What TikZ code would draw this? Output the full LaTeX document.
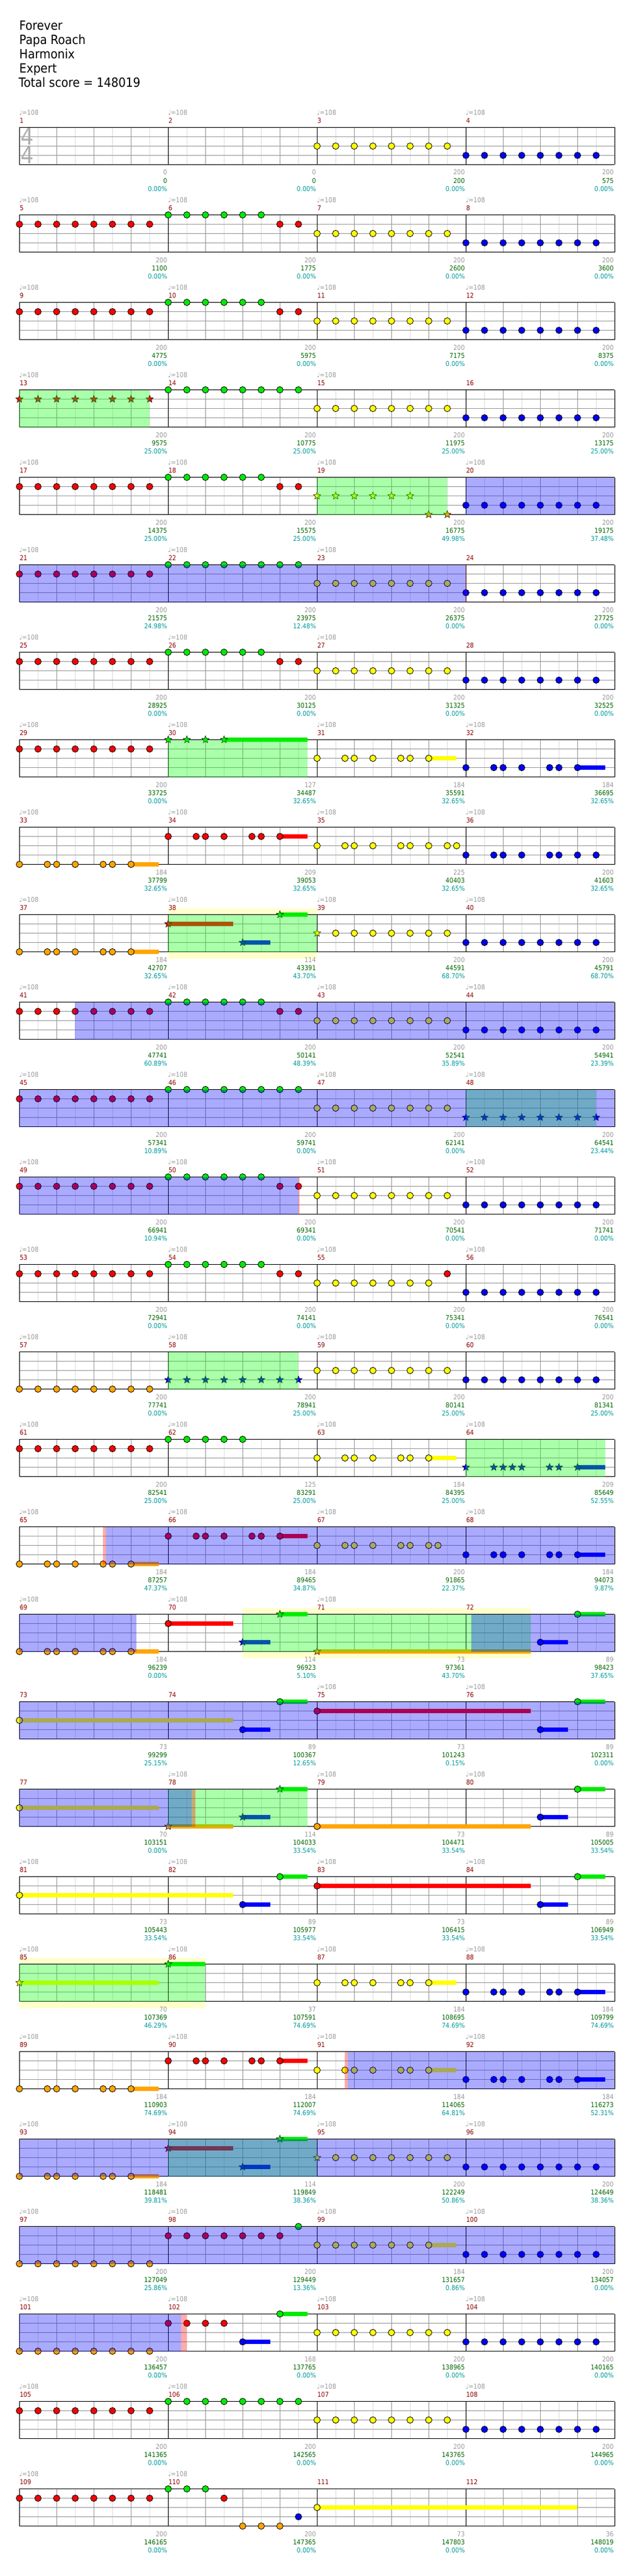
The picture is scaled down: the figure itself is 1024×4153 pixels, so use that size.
\documentclass[tikz,border=0pt]{standalone}
\usepackage{fontspec}
\setmainfont{DejaVu Sans}[FakeStretch=0.9]
\usetikzlibrary{shapes.geometric}
\definecolor{lc0}{RGB}{0,235,0}
\definecolor{lc1}{RGB}{255,0,0}
\definecolor{lc2}{RGB}{255,255,0}
\definecolor{lc3}{RGB}{0,0,255}
\definecolor{lc4}{RGB}{255,165,0}
\definecolor{mred}{RGB}{140,0,0}
\definecolor{tgrey}{RGB}{153,153,153}
\definecolor{sgreen}{RGB}{0,100,0}
\definecolor{pcyan}{RGB}{0,153,153}
\definecolor{gridm}{RGB}{153,153,153}
\definecolor{gridl}{RGB}{221,221,221}
\definecolor{paley}{RGB}{255,255,204}
\tikzset{
  notec/.style={draw=black,line width=0.8pt},
  starnote/.style={star,star points=5,star point ratio=2.3,minimum size=12.5pt,inner sep=0pt,draw=black,line width=0.5pt},
  gl/.style={gridl,line width=1pt},
  gm/.style={gridm,line width=1pt},
  gk/.style={black,line width=1pt},
  small/.style={inner sep=0pt,font=\fontsize{10.8}{12}\selectfont},
  tempo/.style={small,anchor=base west,text=tgrey},
  mnum/.style={small,anchor=base west,text=mred},
  gp/.style={small,anchor=base east,text=tgrey},
  tot/.style={small,anchor=base east,text=sgreen},
  pct/.style={small,anchor=base east,text=pcyan},
  hdline/.style={inner sep=0pt,anchor=base west,font=\fontsize{20.5}{23}\selectfont},
  tsig/.style={inner sep=0pt,text=gridm!80,font=\fontsize{37}{37}\selectfont}
}
\newcommand\mpos[1]{\pgfmathtruncatemacro\mrow{(#1-1)/4}\pgfmathtruncatemacro\mcol{#1-1-4*\mrow}\pgfmathsetmacro\mx{31.3+240*\mcol}\pgfmathsetmacro\my{205.5+141*\mrow}}
\newcommand\nts[3]{\mpos{#1}\foreach \p in {#3}{\filldraw[notec,fill=lc#2] (\mx+15*\p,\my+15*#2) circle (5.2pt);}}
\newcommand\sts[3]{\mpos{#1}\foreach \p in {#3}{\node[starnote,fill=lc#2] (s#1-#2-\p) at (\mx+15*\p,\my+15*#2) {};}}
\newcommand\sus[4]{\mpos{#1}\fill[lc#2] (\mx+15*#3,\my+15*#2-3.2) rectangle (\mx+15*#4,\my+15*#2+3.2);}
\newcommand\ovl[4]{\mpos{#1}\fill[#2,opacity=0.333] (\mx+15*#3,\my) rectangle (\mx+15*#4,\my+60);}
\newcommand\hlt[3]{\mpos{#1}\fill[paley] (\mx+15*#2,\my-10) rectangle (\mx+15*#3,\my) (\mx+15*#2,\my+60) rectangle (\mx+15*#3,\my+71);}
\begin{document}
\begin{tikzpicture}[x=1pt,y=-1pt]
\useasboundingbox (0,0) rectangle (1024,4153);

\node[hdline] (title) at (31,49) {Forever};
\node[hdline] (artist) at (31,72) {Papa Roach};
\node[hdline] (charter) at (31,95) {Harmonix};
\node[hdline] (level) at (31,118) {Expert};
\node[hdline] (score) at (30,141) {Total score = 148019};

\hlt{38}{0}{16}
\hlt{70}{8}{39}
\hlt{85}{0}{20}

\foreach \m in {1,...,112}{\mpos{\m}
  \foreach \i in {2,6,10,14} \draw[gl] (\mx+15*\i,\my) -- ++(0,60);
  \foreach \i in {4,8,12} \draw[gm] (\mx+15*\i,\my) -- ++(0,60);
  \foreach \j in {15,30,45} \draw[gm] (\mx,\my+\j) -- ++(240,0);
  \draw[gk] (\mx,\my) -- ++(240,0) (\mx,\my+60) -- ++(240,0) (\mx,\my) -- ++(0,60);
  \ifnum\mcol=3 \draw[gk] (\mx+240,\my) -- ++(0,60);\fi
}
\node[tsig] (ts1) at (44.5,220) {4};
\node[tsig] (ts2) at (44.5,250.5) {4};

\nts{3}{2}{0,2,...,14} \nts{4}{3}{0,2,...,14}
\nts{5}{1}{0,2,...,14} \nts{6}{0}{0,2,...,10} \nts{6}{1}{12,14} \nts{7}{2}{0,2,...,14} \nts{8}{3}{0,2,...,14}
\nts{9}{1}{0,2,...,14} \nts{10}{0}{0,2,...,10} \nts{10}{1}{12,14} \nts{11}{2}{0,2,...,14} \nts{12}{3}{0,2,...,14}
\sts{13}{1}{0,2,...,14} \nts{14}{0}{0,2,...,14} \nts{15}{2}{0,2,...,14} \nts{16}{3}{0,2,...,14}
\nts{17}{1}{0,2,...,14} \nts{18}{0}{0,2,...,10} \nts{18}{1}{12,14} \sts{19}{2}{0,2,...,10} \sts{19}{4}{12,14} \nts{20}{3}{0,2,...,14}
\nts{21}{1}{0,2,...,14} \nts{22}{0}{0,2,...,14} \nts{23}{2}{0,2,...,14} \nts{24}{3}{0,2,...,14}
\nts{25}{1}{0,2,...,14} \nts{26}{0}{0,2,...,10} \nts{26}{1}{12,14} \nts{27}{2}{0,2,...,14} \nts{28}{3}{0,2,...,14}
\nts{29}{1}{0,2,...,14}
\sus{30}{0}{6}{15} \sts{30}{0}{0,2,4,6}
\sus{31}{2}{12}{15} \nts{31}{2}{0,3,4,6,9,10,12}
\sus{32}{3}{12}{15} \nts{32}{3}{0,3,4,6,9,10,12}
\sus{33}{4}{12}{15} \nts{33}{4}{0,3,4,6,9,10,12}
\sus{34}{1}{12}{15} \nts{34}{1}{0,3,4,6,9,10,12}
\nts{35}{2}{0,3,4,6,9,10,12,14,15}
\nts{36}{3}{0,3,4,6,9,10,12,14}
\sus{37}{4}{12}{15} \nts{37}{4}{0,3,4,6,9,10,12}
\sus{38}{1}{0}{7} \sus{38}{3}{8}{11} \sus{38}{0}{12}{15} \sts{38}{1}{0} \sts{38}{3}{8} \sts{38}{0}{12}
\sts{39}{2}{0} \nts{39}{2}{2,4,...,14} \nts{40}{3}{0,2,...,14}
\nts{41}{1}{0,2,...,14} \nts{42}{0}{0,2,...,10} \nts{42}{1}{12,14} \nts{43}{2}{0,2,...,14} \nts{44}{3}{0,2,...,14}
\nts{45}{1}{0,2,...,14} \nts{46}{0}{0,2,...,14} \nts{47}{2}{0,2,...,14} \sts{48}{3}{0,2,...,14}
\nts{49}{1}{0,2,...,14} \nts{50}{0}{0,2,...,10} \nts{50}{1}{12,14} \nts{51}{2}{0,2,...,14} \nts{52}{3}{0,2,...,14}
\nts{53}{1}{0,2,...,14} \nts{54}{0}{0,2,...,10} \nts{54}{1}{12,14} \nts{55}{2}{0,2,...,12} \nts{55}{1}{14} \nts{56}{3}{0,2,...,14}
\nts{57}{4}{0,2,...,14} \sts{58}{3}{0,2,...,14} \nts{59}{2}{0,2,...,14} \nts{60}{3}{0,2,...,14}
\nts{61}{1}{0,2,...,14} \nts{62}{0}{0,2,...,8}
\sus{63}{2}{12}{15} \nts{63}{2}{0,3,4,6,9,10,12}
\sus{64}{3}{12}{15} \sts{64}{3}{0,3,4,5,6,9,10,12}
\sus{65}{4}{12}{15} \nts{65}{4}{0,3,4,6,9,10,12}
\sus{66}{1}{12}{15} \nts{66}{1}{0,3,4,6,9,10,12}
\nts{67}{2}{0,3,4,6,9,10,12,13}
\sus{68}{3}{12}{15} \nts{68}{3}{0,3,4,6,9,10,12}
\sus{69}{4}{12}{15} \nts{69}{4}{0,3,4,6,9,10,12}
\sus{70}{1}{0}{7} \nts{70}{1}{0} \sus{70}{3}{8}{11} \sts{70}{3}{8} \sus{70}{0}{12}{15} \sts{70}{0}{12}
\sus{71}{4}{0}{23} \sts{71}{4}{0}
\sus{72}{3}{8}{11} \nts{72}{3}{8} \sus{72}{0}{12}{15} \nts{72}{0}{12}
\sus{73}{2}{0}{23} \nts{73}{2}{0}
\sus{74}{3}{8}{11} \nts{74}{3}{8} \sus{74}{0}{12}{15} \nts{74}{0}{12}
\sus{75}{1}{0}{23} \nts{75}{1}{0}
\sus{76}{3}{8}{11} \nts{76}{3}{8} \sus{76}{0}{12}{15} \nts{76}{0}{12}
\sus{77}{2}{0}{15} \nts{77}{2}{0}
\sus{78}{4}{0}{7} \sts{78}{4}{0} \sus{78}{3}{8}{11} \sts{78}{3}{8} \sus{78}{0}{12}{15} \sts{78}{0}{12}
\sus{79}{4}{0}{23} \nts{79}{4}{0}
\sus{80}{3}{8}{11} \nts{80}{3}{8} \sus{80}{0}{12}{15} \nts{80}{0}{12}
\sus{81}{2}{0}{23} \nts{81}{2}{0}
\sus{82}{3}{8}{11} \nts{82}{3}{8} \sus{82}{0}{12}{15} \nts{82}{0}{12}
\sus{83}{1}{0}{23} \nts{83}{1}{0}
\sus{84}{3}{8}{11} \nts{84}{3}{8} \sus{84}{0}{12}{15} \nts{84}{0}{12}
\sus{85}{2}{0}{15} \sts{85}{2}{0}
\sus{86}{0}{0}{4} \sts{86}{0}{0}
\sus{87}{2}{12}{15} \nts{87}{2}{0,3,4,6,9,10,12}
\sus{88}{3}{12}{15} \nts{88}{3}{0,3,4,6,9,10,12}
\sus{89}{4}{12}{15} \nts{89}{4}{0,3,4,6,9,10,12}
\sus{90}{1}{12}{15} \nts{90}{1}{0,3,4,6,9,10,12}
\sus{91}{2}{12}{15} \nts{91}{2}{0,3,4,6,9,10,12}
\sus{92}{3}{12}{15} \nts{92}{3}{0,3,4,6,9,10,12}
\sus{93}{4}{12}{15} \nts{93}{4}{0,3,4,6,9,10,12}
\sus{94}{1}{0}{7} \sus{94}{3}{8}{11} \sus{94}{0}{12}{15} \sts{94}{1}{0} \sts{94}{3}{8} \sts{94}{0}{12}
\sts{95}{2}{0} \nts{95}{2}{2,4,...,14} \nts{96}{3}{0,2,...,14}
\nts{97}{4}{0,2,...,14} \nts{98}{1}{0,2,...,12} \nts{98}{0}{14}
\sus{99}{2}{12}{15} \nts{99}{2}{0,2,...,12} \nts{100}{3}{0,2,...,14}
\nts{101}{4}{0,2,...,14} \nts{102}{1}{0,2,4,6}
\sus{102}{3}{8}{11} \nts{102}{3}{8} \sus{102}{0}{12}{15} \nts{102}{0}{12}
\nts{103}{2}{0,2,...,14} \nts{104}{3}{0,2,...,14}
\nts{105}{1}{0,2,...,14} \nts{106}{0}{0,2,...,14} \nts{107}{2}{0,2,...,14} \nts{108}{3}{0,2,...,14}
\nts{109}{1}{0,2,...,14} \nts{110}{0}{0,2,4} \nts{110}{1}{6} \nts{110}{4}{8,10,12} \nts{110}{3}{14}
\sus{111}{2}{0}{28} \nts{111}{2}{0}

\ovl{13}{green}{0}{14}
\ovl{19}{green}{0}{14}
\ovl{30}{green}{0}{15}
\ovl{38}{green}{0}{16}
\ovl{48}{green}{0}{14}
\ovl{58}{green}{0}{14}
\ovl{64}{green}{0}{15}
\ovl{70}{green}{8}{39}
\ovl{78}{green}{0}{15}
\ovl{85}{green}{0}{20}
\ovl{94}{green}{0}{16}

\ovl{20}{blue}{0}{16}
\ovl{21}{blue}{0}{48}
\ovl{41}{blue}{6}{64}
\ovl{45}{blue}{0}{64}
\ovl{49}{blue}{0}{30}
\ovl{65}{blue}{9.33}{64}
\ovl{69}{blue}{0}{12.6}
\ovl{72}{blue}{0.57}{16}
\ovl{73}{blue}{0}{64}
\ovl{77}{blue}{0}{18.5}
\ovl{91}{blue}{3.31}{32}
\ovl{93}{blue}{0}{64}
\ovl{97}{blue}{0}{64}
\ovl{101}{blue}{0}{17.39}

\ovl{23}{red}{15.95}{16.05}
\ovl{50}{red}{14}{14.1}
\ovl{65}{red}{8.97}{9.33}
\ovl{78}{red}{2.5}{2.9}
\ovl{91}{red}{2.96}{3.31}
\ovl{101}{red}{17.39}{18}

\foreach \m/\tf/\gpv/\totv/\pctv in {1/1/0/0/0.00, 2/1/0/0/0.00, 3/1/200/200/0.00, 4/1/200/575/0.00,
 5/1/200/1100/0.00, 6/1/200/1775/0.00, 7/1/200/2600/0.00, 8/1/200/3600/0.00,
 9/1/200/4775/0.00, 10/1/200/5975/0.00, 11/1/200/7175/0.00, 12/1/200/8375/0.00,
 13/1/200/9575/25.00, 14/1/200/10775/25.00, 15/1/200/11975/25.00, 16/0/200/13175/25.00,
 17/1/200/14375/25.00, 18/1/200/15575/25.00, 19/1/200/16775/49.98, 20/1/200/19175/37.48,
 21/1/200/21575/24.98, 22/1/200/23975/12.48, 23/1/200/26375/0.00, 24/0/200/27725/0.00,
 25/1/200/28925/0.00, 26/1/200/30125/0.00, 27/1/200/31325/0.00, 28/0/200/32525/0.00,
 29/1/200/33725/0.00, 30/1/127/34487/32.65, 31/1/184/35591/32.65, 32/1/184/36695/32.65,
 33/1/184/37799/32.65, 34/1/209/39053/32.65, 35/1/225/40403/32.65, 36/1/200/41603/32.65,
 37/1/184/42707/32.65, 38/1/114/43391/43.70, 39/1/200/44591/68.70, 40/1/200/45791/68.70,
 41/1/200/47741/60.89, 42/1/200/50141/48.39, 43/1/200/52541/35.89, 44/1/200/54941/23.39,
 45/1/200/57341/10.89, 46/1/200/59741/0.00, 47/1/200/62141/0.00, 48/1/200/64541/23.44,
 49/1/200/66941/10.94, 50/1/200/69341/0.00, 51/1/200/70541/0.00, 52/1/200/71741/0.00,
 53/1/200/72941/0.00, 54/1/200/74141/0.00, 55/1/200/75341/0.00, 56/1/200/76541/0.00,
 57/1/200/77741/0.00, 58/1/200/78941/25.00, 59/1/200/80141/25.00, 60/1/200/81341/25.00,
 61/1/200/82541/25.00, 62/1/125/83291/25.00, 63/1/184/84395/25.00, 64/1/209/85649/52.55,
 65/1/184/87257/47.37, 66/1/184/89465/34.87, 67/1/200/91865/22.37, 68/1/184/94073/9.87,
 69/1/184/96239/0.00, 70/1/114/96923/5.10, 71/1/73/97361/43.70, 72/0/89/98423/37.65,
 73/0/73/99299/25.15, 74/0/89/100367/12.65, 75/1/73/101243/0.15, 76/1/89/102311/0.00,
 77/0/70/103151/0.00, 78/1/114/104033/33.54, 79/1/73/104471/33.54, 80/1/89/105005/33.54,
 81/1/73/105443/33.54, 82/1/89/105977/33.54, 83/1/73/106415/33.54, 84/1/89/106949/33.54,
 85/1/70/107369/46.29, 86/1/37/107591/74.69, 87/1/184/108695/74.69, 88/1/184/109799/74.69,
 89/1/184/110903/74.69, 90/1/184/112007/74.69, 91/1/184/114065/64.81, 92/1/184/116273/52.31,
 93/1/184/118481/39.81, 94/1/114/119849/38.36, 95/1/200/122249/50.86, 96/1/200/124649/38.36,
 97/1/200/127049/25.86, 98/1/200/129449/13.36, 99/1/184/131657/0.86, 100/1/200/134057/0.00,
 101/1/200/136457/0.00, 102/1/168/137765/0.00, 103/1/200/138965/0.00, 104/1/200/140165/0.00,
 105/1/200/141365/0.00, 106/1/200/142565/0.00, 107/1/200/143765/0.00, 108/1/200/144965/0.00,
 109/1/200/146165/0.00, 110/1/200/147365/0.00, 111/0/73/147803/0.00, 112/0/36/148019/0.00}{\mpos{\m}
  \ifnum\tf=1 \node[tempo] (tp\m) at (\mx-0.5,\my-19.8) {♩=108};\fi
  \node[mnum] (mn\m) at (\mx+0.3,\my-7.2) {\m};
  \node[gp] (gp\m) at (\mx+238.5,\my+76.5) {\gpv};
  \node[tot] (tot\m) at (\mx+238.5,\my+89.5) {\totv};
  \node[pct] (pct\m) at (\mx+238.5,\my+102.5) {\pctv\%};
}
\end{tikzpicture}
\end{document}
